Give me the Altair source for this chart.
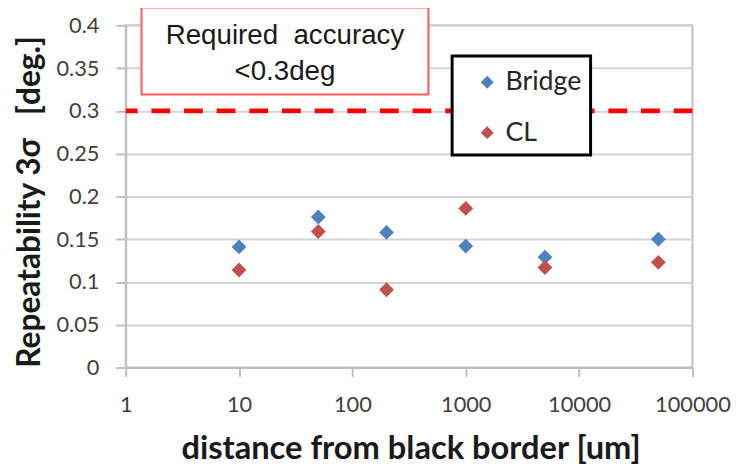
import altair as alt
import pandas as pd

# ---- data ----
distance_um = [10, 50, 200, 1000, 5000, 50000]
bridge_vals = [0.141, 0.176, 0.158, 0.142, 0.129, 0.150]
cl_vals = [0.114, 0.159, 0.091, 0.186, 0.117, 0.123]
series_names = ["Bridge", "CL"]
series_colors = ["#4F81BD", "#C0504D"]
x_ticks = [1, 10, 100, 1000, 10000, 100000]
y_ticks = [0, 0.05, 0.1, 0.15, 0.2, 0.25, 0.3, 0.35, 0.4]
required_accuracy = [0.3]
note_text = ["Required\u00a0\u00a0accuracy\n<0.3deg"]
x_title = "distance from black border [um]"
y_title = "Repeatability 3\u03c3\u00a0\u00a0\u00a0[deg.]"

rows = []
for d, b, c in zip(distance_um, bridge_vals, cl_vals):
    rows.append({"distance": d, "value": b, "series": series_names[0]})
    rows.append({"distance": d, "value": c, "series": series_names[1]})
df = pd.DataFrame(rows)

W, H = 573, 346

x_scale = alt.Scale(type="log", domain=[1, 100000])
y_scale = alt.Scale(domain=[0, 0.4])

x_axis = alt.Axis(
    values=x_ticks, format="d", grid=False,
    domainColor="#bfbfbf", domainWidth=2,
    tickColor="#bfbfbf", tickWidth=2, tickSize=9,
    labelFont="Lato", labelFontSize=22, labelColor="#404040",
    labelBaseline="alphabetic", labelPadding=35,
    labelFlush=False, labelOverlap=False,
    title=x_title, titleFont="Lato", titleFontSize=33, titleFontWeight="bold",
    titleColor="#1a1a1a", titleBaseline="alphabetic", titleAlign="center",
    titleX=288, titleY=92,
)
y_axis = alt.Axis(
    values=y_ticks, format="~g", grid=True,
    gridColor="#d4d4d4", gridWidth=2,
    domainColor="#bfbfbf", domainWidth=2,
    tickColor="#bfbfbf", tickWidth=2, tickSize=10,
    labelFont="Lato", labelFontSize=22, labelColor="#404040",
    labelPadding=17, labelOverlap=False,
    title=y_title, titleFont="Lato", titleFontSize=32, titleFontWeight="bold",
    titleColor="#1a1a1a", titleAngle=270, titleAlign="center",
    titleBaseline="middle", titleX=-97, titleY=178,
)

points = alt.Chart(df).mark_point(
    shape="diamond", filled=True, size=225, opacity=1
).encode(
    x=alt.X("distance:Q", scale=x_scale, axis=x_axis),
    y=alt.Y("value:Q", scale=y_scale, axis=y_axis),
    color=alt.Color(
        "series:N",
        scale=alt.Scale(domain=series_names, range=series_colors),
        legend=alt.Legend(
            title=None, orient="none", legendX=352, legendY=44,
            symbolType="diamond", symbolSize=170, symbolStrokeWidth=0,
            labelFont="Lato", labelFontSize=27, labelColor="#262626",
            labelOffset=5, rowPadding=23, padding=0,
        ),
    ),
)

rule = alt.Chart(pd.DataFrame({"value": required_accuracy})).mark_rule(
    color="#ff0000", strokeWidth=5, strokeDash=[19, 14]
).encode(y=alt.Y("value:Q", scale=y_scale, axis=y_axis))

one = pd.DataFrame({"k": [0]})
note_box = alt.Chart(one).mark_rect(
    fill="white", stroke="#ff5a5a", strokeWidth=2
).encode(x=alt.value(16), x2=alt.value(306), y=alt.value(-18), y2=alt.value(70))

legend_box = alt.Chart(one).mark_rect(
    fill="white", stroke="#000000", strokeWidth=3
).encode(x=alt.value(330), x2=alt.value(470), y=alt.value(31), y2=alt.value(131))

note = alt.Chart(pd.DataFrame({"note": note_text})).mark_text(
    align="center", baseline="alphabetic", lineBreak="\n", lineHeight=37,
    font="Liberation Sans", fontSize=28, color="#1a1a1a"
).encode(x=alt.value(161), y=alt.value(18.7), text="note:N")

chart = alt.layer(rule, note_box, legend_box, note, points).properties(
    width=W, height=H,
    padding={"left": 119, "top": 15, "right": 43, "bottom": 98},
    autosize=alt.AutoSizeParams(type="none"),
    background="white",
).configure_view(stroke="#bfbfbf", strokeWidth=2)

chart.save("out.html", embed_options={"renderer": "svg", "actions": False})
